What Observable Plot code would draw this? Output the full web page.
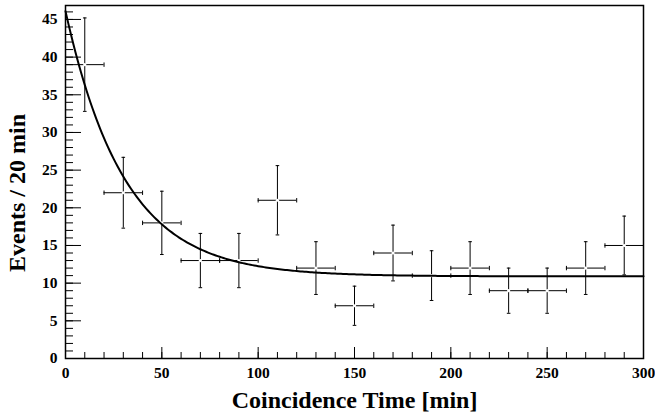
<!DOCTYPE html>
<html>
<head>
<meta charset="utf-8">
<script src="https://cdn.jsdelivr.net/npm/d3@7"></script>
<script src="https://cdn.jsdelivr.net/npm/@observablehq/plot@0.6"></script>
<style>
  html, body { margin: 0; padding: 0; background: #fff; }
  svg, svg text { font-family: "Liberation Serif", "Times New Roman", serif !important; font-weight: bold; }
</style>
</head>
<body>
<div id="chart"></div>
<script>
// Bin centres (minutes), counts per 20 min bin and their error bars
const binCenters = [10, 30, 50, 70, 90, 110, 130, 150, 170, 190, 210, 230, 250, 270, 290];
const counts     = [39, 22, 18, 13, 13, 21, 12, 7, 14, 11, 12, 9, 9, 12, 15];
const errors     = [6.2, 4.7, 4.2, 3.6, 3.6, 4.6, 3.5, 2.6, 3.7, 3.3, 3.5, 3.0, 3.0, 3.5, 3.9];
const binHalfWidth = 10;

// Exponential fit parameters: A * exp(-t / tau) + C
const fitA = 35.2, fitTau = 30.7, fitC = 10.9;

// Axis ticks and labels
const xTicks = [0, 50, 100, 150, 200, 250, 300];
const xMinorTicks = d3.range(0, 301, 10);
const yTicks = [0, 5, 10, 15, 20, 25, 30, 35, 40, 45];
const yMinorTicks = d3.range(0, 47, 1);
const xTitle = "Coincidence Time [min]";
const yTitle = "Events / 20 min";

const data = binCenters.map((t, i) => ({t, n: counts[i], e: errors[i]}));
const fitCurve = d3.range(0, 300.5, 1).map(t => ({t, y: fitA * Math.exp(-t / fitTau) + fitC}));

const W = 655, H = 418;
const mL = 65, mR = 12, mT = 5, mB = 60;
const frameW = W - mL - mR, frameH = H - mT - mB;
const FONT = "Liberation Serif";

const hSym = {draw(ctx, size) { const r = Math.sqrt(size / Math.PI); ctx.moveTo(-r, 0); ctx.lineTo(r, 0); }};
const vSym = {draw(ctx, size) { const r = Math.sqrt(size / Math.PI); ctx.moveTo(0, -r); ctx.lineTo(0, r); }};

const chart = Plot.plot({
  width: W,
  height: H,
  marginLeft: mL,
  marginRight: mR,
  marginTop: mT,
  marginBottom: mB,
  style: {fontFamily: FONT, fontWeight: "bold", background: "#fff", color: "#000"},
  x: {domain: [0, 300]},
  y: {domain: [0, 46.85]},
  marks: [
    // inward ticks
    Plot.tickX(xMinorTicks, {stroke: "#000", insetTop: frameH - 6}),
    Plot.tickX(xTicks, {stroke: "#000", insetTop: frameH - 11}),
    Plot.tickY(yMinorTicks, {stroke: "#000", insetRight: frameW - 8}),
    Plot.tickY(yTicks, {stroke: "#000", insetRight: frameW - 16}),
    Plot.axisX({ticks: xTicks, tickSize: 0, tickPadding: 8, fontSize: 15.5, fontFamily: FONT, fontWeight: "bold", label: null}),
    Plot.axisY({ticks: yTicks, tickSize: 0, tickPadding: 8, fontSize: 15.5, fontFamily: FONT, fontWeight: "bold", label: null}),
    Plot.text([xTitle], {frameAnchor: "bottom", textAnchor: "middle", lineAnchor: "bottom", dy: 49, fontSize: 24, fontFamily: FONT, fontWeight: "bold", fill: "#000"}),
    Plot.text([yTitle], {frameAnchor: "left", textAnchor: "middle", lineAnchor: "middle", dx: -48, dy: 11, rotate: -90, fontSize: 24, fontFamily: FONT, fontWeight: "bold", fill: "#000"}),
    // error bars
    Plot.ruleY(data, {y: "n", x1: d => d.t - binHalfWidth, x2: d => d.t + binHalfWidth, stroke: "#000", strokeWidth: 1}),
    Plot.ruleX(data, {x: "t", y1: d => d.n - d.e, y2: d => d.n + d.e, stroke: "#000", strokeWidth: 1}),
    Plot.dot(data, {x: d => d.t - binHalfWidth, y: "n", symbol: vSym, r: 2.2, stroke: "#000", fill: "none", strokeWidth: 1}),
    Plot.dot(data, {x: d => d.t + binHalfWidth, y: "n", symbol: vSym, r: 2.2, stroke: "#000", fill: "none", strokeWidth: 1}),
    Plot.dot(data, {x: "t", y: d => d.n - d.e, symbol: hSym, r: 1.8, stroke: "#000", fill: "none", strokeWidth: 1}),
    Plot.dot(data, {x: "t", y: d => d.n + d.e, symbol: hSym, r: 1.8, stroke: "#000", fill: "none", strokeWidth: 1}),
    Plot.dot(data, {x: "t", y: "n", r: 1.6, fill: "#fff", stroke: "none"}),
    // fit
    Plot.line(fitCurve, {x: "t", y: "y", stroke: "#000", strokeWidth: 2}),
    Plot.frame({stroke: "#000", strokeWidth: 1.5})
  ]
});
document.getElementById("chart").appendChild(chart);
</script>
</body>
</html>
